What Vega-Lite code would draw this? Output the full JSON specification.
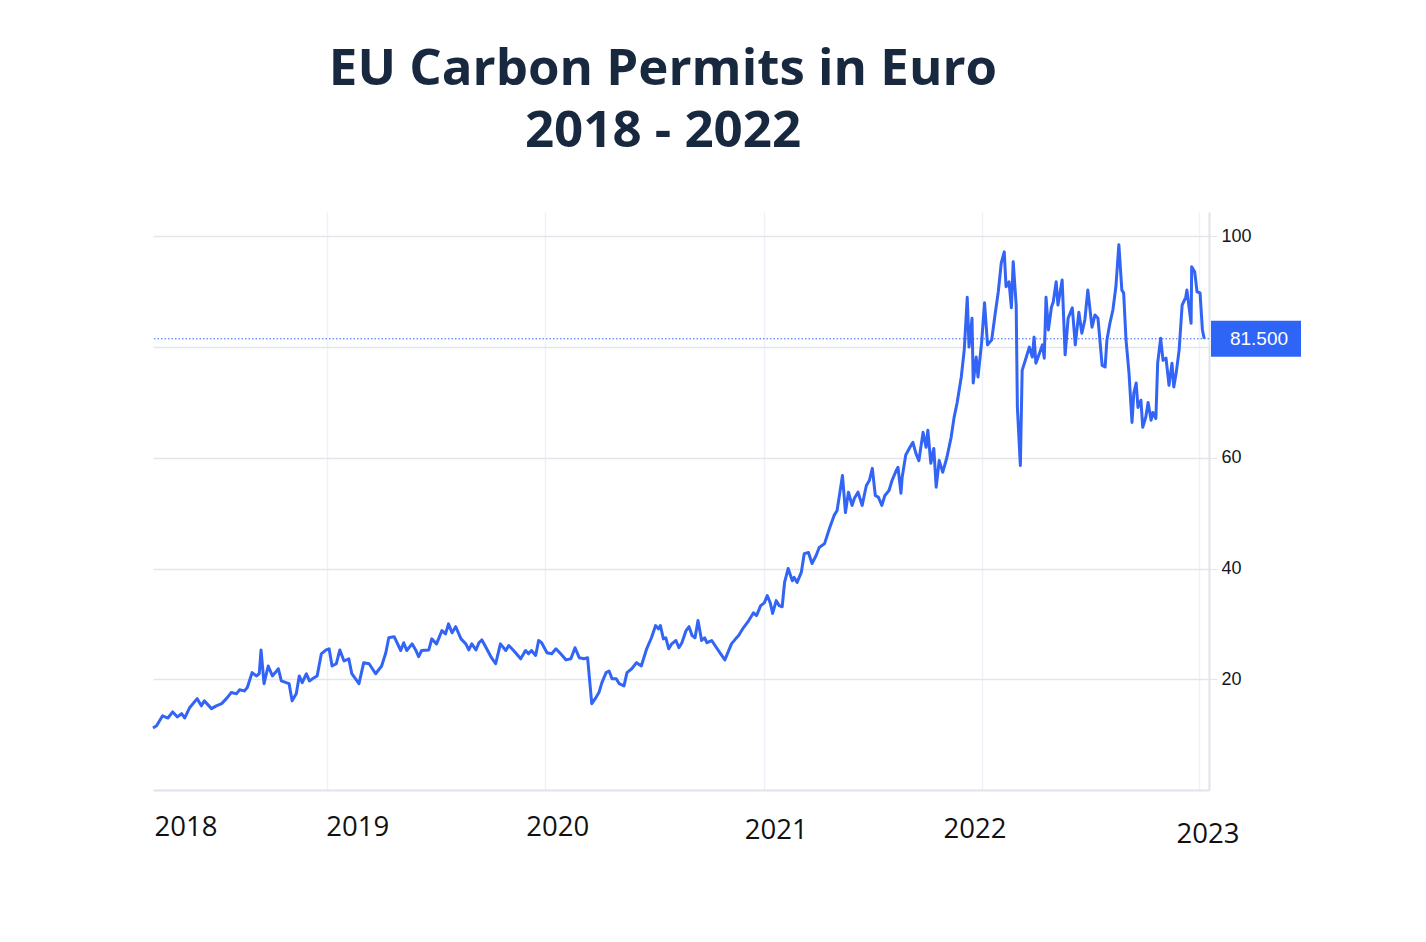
{
  "$schema": "https://vega.github.io/schema/vega-lite/v6.json",
  "width": 1056,
  "height": 578,
  "autosize": {"type": "none"},
  "padding": {"left": 153, "top": 212, "right": 217, "bottom": 152},
  "background": "white",
  "title": {
    "text": ["EU Carbon Permits in Euro", "2018 - 2022"],
    "font": "Open Sans",
    "fontSize": 51,
    "fontWeight": "bold",
    "color": "#17283f",
    "lineHeight": 62,
    "anchor": "middle",
    "dx": -18,
    "offset": 54
  },
  "data": {"values": [{"date": "2023-01-17", "price": 81.5, "label": "81.500"}]},
  "layer": [
    {
      "data": {
        "values": [
          {"date": "2018-03-15", "price": 11.2}, {"date": "2018-03-21", "price": 11.6}, {"date": "2018-03-31", "price": 13.4},
          {"date": "2018-04-09", "price": 13.0}, {"date": "2018-04-17", "price": 14.1}, {"date": "2018-04-25", "price": 13.2},
          {"date": "2018-05-02", "price": 13.8}, {"date": "2018-05-07", "price": 13.0}, {"date": "2018-05-15", "price": 14.8},
          {"date": "2018-05-28", "price": 16.5}, {"date": "2018-06-04", "price": 15.2}, {"date": "2018-06-09", "price": 16.1},
          {"date": "2018-06-21", "price": 14.7}, {"date": "2018-06-29", "price": 15.2}, {"date": "2018-07-08", "price": 15.6},
          {"date": "2018-07-16", "price": 16.5}, {"date": "2018-07-24", "price": 17.6}, {"date": "2018-08-02", "price": 17.4},
          {"date": "2018-08-07", "price": 18.1}, {"date": "2018-08-15", "price": 17.9}, {"date": "2018-08-20", "price": 18.5},
          {"date": "2018-08-28", "price": 21.2}, {"date": "2018-09-04", "price": 20.6}, {"date": "2018-09-09", "price": 21.0},
          {"date": "2018-09-12", "price": 25.3}, {"date": "2018-09-17", "price": 19.2}, {"date": "2018-09-24", "price": 22.4},
          {"date": "2018-10-01", "price": 20.6}, {"date": "2018-10-08", "price": 21.5}, {"date": "2018-10-11", "price": 21.9},
          {"date": "2018-10-16", "price": 19.7}, {"date": "2018-10-24", "price": 19.4}, {"date": "2018-10-29", "price": 19.2},
          {"date": "2018-11-03", "price": 16.1}, {"date": "2018-11-10", "price": 17.4}, {"date": "2018-11-15", "price": 20.6},
          {"date": "2018-11-20", "price": 19.4}, {"date": "2018-11-27", "price": 21.0}, {"date": "2018-12-02", "price": 19.7},
          {"date": "2018-12-10", "price": 20.3}, {"date": "2018-12-15", "price": 20.6}, {"date": "2018-12-22", "price": 24.6},
          {"date": "2018-12-30", "price": 25.3}, {"date": "2019-01-04", "price": 25.5}, {"date": "2019-01-09", "price": 22.4},
          {"date": "2019-01-16", "price": 22.8}, {"date": "2019-01-22", "price": 25.3}, {"date": "2019-01-29", "price": 23.3},
          {"date": "2019-02-06", "price": 23.7}, {"date": "2019-02-11", "price": 21.0}, {"date": "2019-02-23", "price": 19.2},
          {"date": "2019-03-03", "price": 23.0}, {"date": "2019-03-12", "price": 22.8}, {"date": "2019-03-23", "price": 21.0},
          {"date": "2019-04-02", "price": 22.4}, {"date": "2019-04-09", "price": 24.8}, {"date": "2019-04-14", "price": 27.5},
          {"date": "2019-04-23", "price": 27.7}, {"date": "2019-05-04", "price": 25.2}, {"date": "2019-05-09", "price": 26.6},
          {"date": "2019-05-14", "price": 25.2}, {"date": "2019-05-23", "price": 26.4}, {"date": "2019-05-29", "price": 25.3},
          {"date": "2019-06-03", "price": 24.1}, {"date": "2019-06-08", "price": 25.2}, {"date": "2019-06-20", "price": 25.3},
          {"date": "2019-06-25", "price": 27.3}, {"date": "2019-07-03", "price": 26.4}, {"date": "2019-07-12", "price": 28.8},
          {"date": "2019-07-18", "price": 28.2}, {"date": "2019-07-23", "price": 30.0}, {"date": "2019-07-29", "price": 28.4},
          {"date": "2019-08-04", "price": 29.5}, {"date": "2019-08-13", "price": 27.3}, {"date": "2019-08-21", "price": 26.4},
          {"date": "2019-08-26", "price": 25.3}, {"date": "2019-08-31", "price": 26.4}, {"date": "2019-09-07", "price": 25.3},
          {"date": "2019-09-12", "price": 26.6}, {"date": "2019-09-17", "price": 27.1}, {"date": "2019-09-25", "price": 25.5},
          {"date": "2019-10-03", "price": 23.9}, {"date": "2019-10-10", "price": 22.8}, {"date": "2019-10-18", "price": 26.4},
          {"date": "2019-10-27", "price": 25.2}, {"date": "2019-11-01", "price": 26.1}, {"date": "2019-11-09", "price": 25.2},
          {"date": "2019-11-21", "price": 23.7}, {"date": "2019-11-29", "price": 25.2}, {"date": "2019-12-04", "price": 24.6},
          {"date": "2019-12-09", "price": 25.2}, {"date": "2019-12-16", "price": 24.3}, {"date": "2019-12-21", "price": 27.0},
          {"date": "2019-12-26", "price": 26.6}, {"date": "2020-01-04", "price": 24.8}, {"date": "2020-01-12", "price": 24.6},
          {"date": "2020-01-19", "price": 25.5}, {"date": "2020-01-27", "price": 24.6}, {"date": "2020-02-05", "price": 23.5},
          {"date": "2020-02-13", "price": 23.7}, {"date": "2020-02-20", "price": 25.7}, {"date": "2020-02-27", "price": 23.9},
          {"date": "2020-03-06", "price": 23.7}, {"date": "2020-03-12", "price": 23.9}, {"date": "2020-03-19", "price": 15.6},
          {"date": "2020-03-26", "price": 16.7}, {"date": "2020-03-31", "price": 17.6}, {"date": "2020-04-05", "price": 19.4},
          {"date": "2020-04-12", "price": 21.2}, {"date": "2020-04-17", "price": 21.5}, {"date": "2020-04-22", "price": 20.1},
          {"date": "2020-04-29", "price": 20.1}, {"date": "2020-05-04", "price": 19.2}, {"date": "2020-05-12", "price": 18.8},
          {"date": "2020-05-17", "price": 21.2}, {"date": "2020-05-25", "price": 21.9}, {"date": "2020-06-02", "price": 23.0},
          {"date": "2020-06-10", "price": 22.4}, {"date": "2020-06-19", "price": 25.5}, {"date": "2020-06-27", "price": 27.5},
          {"date": "2020-07-04", "price": 29.7}, {"date": "2020-07-09", "price": 29.1}, {"date": "2020-07-12", "price": 29.7},
          {"date": "2020-07-17", "price": 27.3}, {"date": "2020-07-21", "price": 27.5}, {"date": "2020-07-26", "price": 25.5},
          {"date": "2020-07-31", "price": 26.4}, {"date": "2020-08-07", "price": 27.0}, {"date": "2020-08-12", "price": 25.7},
          {"date": "2020-08-17", "price": 26.6}, {"date": "2020-08-24", "price": 28.8}, {"date": "2020-08-29", "price": 29.5},
          {"date": "2020-09-03", "price": 27.9}, {"date": "2020-09-08", "price": 27.5}, {"date": "2020-09-13", "price": 30.6},
          {"date": "2020-09-19", "price": 27.0}, {"date": "2020-09-24", "price": 27.5}, {"date": "2020-09-28", "price": 26.6},
          {"date": "2020-10-06", "price": 27.0}, {"date": "2020-10-14", "price": 25.7}, {"date": "2020-10-21", "price": 24.6},
          {"date": "2020-10-28", "price": 23.5}, {"date": "2020-11-02", "price": 24.8}, {"date": "2020-11-08", "price": 26.4},
          {"date": "2020-11-15", "price": 27.3}, {"date": "2020-11-20", "price": 27.9}, {"date": "2020-11-28", "price": 29.3},
          {"date": "2020-12-07", "price": 30.6}, {"date": "2020-12-15", "price": 32.0}, {"date": "2020-12-20", "price": 31.5},
          {"date": "2020-12-27", "price": 33.3}, {"date": "2021-01-02", "price": 33.8}, {"date": "2021-01-07", "price": 35.1},
          {"date": "2021-01-12", "price": 33.8}, {"date": "2021-01-16", "price": 31.9}, {"date": "2021-01-22", "price": 34.2},
          {"date": "2021-01-27", "price": 33.3}, {"date": "2021-02-01", "price": 33.1}, {"date": "2021-02-05", "price": 37.5},
          {"date": "2021-02-11", "price": 40.0}, {"date": "2021-02-18", "price": 37.8}, {"date": "2021-02-21", "price": 38.4},
          {"date": "2021-02-26", "price": 37.5}, {"date": "2021-03-05", "price": 39.3}, {"date": "2021-03-10", "price": 42.7},
          {"date": "2021-03-17", "price": 42.9}, {"date": "2021-03-23", "price": 40.9}, {"date": "2021-03-30", "price": 42.4},
          {"date": "2021-04-04", "price": 43.8}, {"date": "2021-04-13", "price": 44.5}, {"date": "2021-04-21", "price": 47.2},
          {"date": "2021-04-29", "price": 49.6}, {"date": "2021-05-04", "price": 50.5}, {"date": "2021-05-13", "price": 56.8},
          {"date": "2021-05-18", "price": 50.1}, {"date": "2021-05-23", "price": 53.8}, {"date": "2021-05-29", "price": 51.4},
          {"date": "2021-06-02", "price": 52.7}, {"date": "2021-06-08", "price": 53.8}, {"date": "2021-06-15", "price": 51.4},
          {"date": "2021-06-22", "price": 55.0}, {"date": "2021-06-27", "price": 55.9}, {"date": "2021-07-02", "price": 58.1},
          {"date": "2021-07-07", "price": 53.2}, {"date": "2021-07-12", "price": 52.9}, {"date": "2021-07-18", "price": 51.4},
          {"date": "2021-07-23", "price": 53.2}, {"date": "2021-07-30", "price": 54.1}, {"date": "2021-08-04", "price": 55.9},
          {"date": "2021-08-11", "price": 57.7}, {"date": "2021-08-14", "price": 58.3}, {"date": "2021-08-19", "price": 53.6},
          {"date": "2021-08-21", "price": 56.5}, {"date": "2021-08-27", "price": 60.5}, {"date": "2021-09-03", "price": 61.9},
          {"date": "2021-09-08", "price": 62.8}, {"date": "2021-09-13", "price": 60.8}, {"date": "2021-09-18", "price": 59.5},
          {"date": "2021-09-25", "price": 64.6}, {"date": "2021-09-30", "price": 61.9}, {"date": "2021-10-03", "price": 65.0},
          {"date": "2021-10-08", "price": 59.0}, {"date": "2021-10-13", "price": 61.7}, {"date": "2021-10-17", "price": 54.7},
          {"date": "2021-10-22", "price": 59.5}, {"date": "2021-10-28", "price": 57.4}, {"date": "2021-11-04", "price": 60.1},
          {"date": "2021-11-11", "price": 63.7}, {"date": "2021-11-16", "price": 67.3}, {"date": "2021-11-21", "price": 69.9},
          {"date": "2021-11-28", "price": 74.6}, {"date": "2021-12-03", "price": 79.5}, {"date": "2021-12-08", "price": 89.0},
          {"date": "2021-12-11", "price": 80.0}, {"date": "2021-12-16", "price": 85.2}, {"date": "2021-12-18", "price": 73.5},
          {"date": "2021-12-23", "price": 78.2}, {"date": "2021-12-26", "price": 74.6}, {"date": "2022-01-01", "price": 80.7},
          {"date": "2022-01-06", "price": 88.0}, {"date": "2022-01-11", "price": 80.4}, {"date": "2022-01-18", "price": 81.3},
          {"date": "2022-01-23", "price": 85.4}, {"date": "2022-01-29", "price": 90.0}, {"date": "2022-02-03", "price": 95.2},
          {"date": "2022-02-08", "price": 97.2}, {"date": "2022-02-11", "price": 90.9}, {"date": "2022-02-16", "price": 91.8},
          {"date": "2022-02-20", "price": 87.1}, {"date": "2022-02-23", "price": 95.4}, {"date": "2022-02-28", "price": 87.6},
          {"date": "2022-03-02", "price": 69.1}, {"date": "2022-03-07", "price": 58.6}, {"date": "2022-03-10", "price": 75.8},
          {"date": "2022-03-17", "price": 78.2}, {"date": "2022-03-22", "price": 80.0}, {"date": "2022-03-27", "price": 78.2},
          {"date": "2022-03-30", "price": 81.8}, {"date": "2022-04-02", "price": 77.1}, {"date": "2022-04-08", "price": 78.9},
          {"date": "2022-04-13", "price": 80.4}, {"date": "2022-04-16", "price": 78.0}, {"date": "2022-04-19", "price": 89.0},
          {"date": "2022-04-23", "price": 83.1}, {"date": "2022-04-28", "price": 87.2}, {"date": "2022-05-01", "price": 88.1},
          {"date": "2022-05-06", "price": 91.8}, {"date": "2022-05-09", "price": 87.6}, {"date": "2022-05-16", "price": 92.1},
          {"date": "2022-05-21", "price": 78.6}, {"date": "2022-05-26", "price": 85.2}, {"date": "2022-06-02", "price": 87.1},
          {"date": "2022-06-07", "price": 80.4}, {"date": "2022-06-13", "price": 86.3}, {"date": "2022-06-18", "price": 82.5},
          {"date": "2022-06-23", "price": 84.9}, {"date": "2022-06-28", "price": 90.3}, {"date": "2022-07-05", "price": 83.6},
          {"date": "2022-07-10", "price": 85.8}, {"date": "2022-07-15", "price": 85.2}, {"date": "2022-07-22", "price": 76.7},
          {"date": "2022-07-27", "price": 76.4}, {"date": "2022-07-30", "price": 81.3}, {"date": "2022-08-04", "price": 84.3},
          {"date": "2022-08-09", "price": 86.7}, {"date": "2022-08-14", "price": 90.9}, {"date": "2022-08-19", "price": 98.5},
          {"date": "2022-08-24", "price": 90.3}, {"date": "2022-08-27", "price": 89.8}, {"date": "2022-08-31", "price": 81.3},
          {"date": "2022-09-05", "price": 75.3}, {"date": "2022-09-10", "price": 66.4}, {"date": "2022-09-13", "price": 71.7},
          {"date": "2022-09-17", "price": 73.5}, {"date": "2022-09-20", "price": 69.1}, {"date": "2022-09-25", "price": 70.4},
          {"date": "2022-09-28", "price": 65.5}, {"date": "2022-10-03", "price": 67.3}, {"date": "2022-10-07", "price": 70.0},
          {"date": "2022-10-12", "price": 66.8}, {"date": "2022-10-15", "price": 68.2}, {"date": "2022-10-20", "price": 67.1},
          {"date": "2022-10-23", "price": 77.1}, {"date": "2022-10-28", "price": 81.6}, {"date": "2022-11-01", "price": 77.6},
          {"date": "2022-11-06", "price": 78.0}, {"date": "2022-11-11", "price": 73.1}, {"date": "2022-11-16", "price": 77.1},
          {"date": "2022-11-19", "price": 72.8}, {"date": "2022-11-23", "price": 75.3}, {"date": "2022-11-28", "price": 79.5},
          {"date": "2022-12-03", "price": 87.6}, {"date": "2022-12-09", "price": 89.0}, {"date": "2022-12-11", "price": 90.3},
          {"date": "2022-12-18", "price": 84.3}, {"date": "2022-12-19", "price": 94.5}, {"date": "2022-12-24", "price": 93.6},
          {"date": "2022-12-28", "price": 90.0}, {"date": "2023-01-02", "price": 89.8}, {"date": "2023-01-06", "price": 83.1},
          {"date": "2023-01-09", "price": 81.5}
        ]
      },
      "mark": {"type": "line", "color": "#3264f5", "strokeWidth": 3, "strokeJoin": "round"},
      "encoding": {
        "x": {
          "field": "date",
          "type": "temporal",
          "title": null,
          "scale": {
            "type": "utc",
            "domain": [
              {"year": 2018, "month": 3, "date": 15, "utc": true},
              {"year": 2023, "month": 1, "date": 17, "utc": true}
            ]
          },
          "axis": {
            "values": [
              {"year": 2018, "month": 3, "date": 15, "utc": true},
              {"year": 2019, "month": 1, "date": 1, "utc": true},
              {"year": 2020, "month": 1, "date": 1, "utc": true},
              {"year": 2021, "month": 1, "date": 1, "utc": true},
              {"year": 2022, "month": 1, "date": 1, "utc": true},
              {"year": 2023, "month": 1, "date": 1, "utc": true}
            ],
            "labelExpr": "utcFormat(datum.value, '%Y')",
            "grid": true,
            "gridColor": "#eef1f7",
            "gridWidth": 1.5,
            "gridOpacity": {"condition": {"test": "utcyear(datum.value) == 2018", "value": 0}, "value": 1},
            "ticks": false,
            "domainColor": "#e0e3eb",
            "domainWidth": 2,
            "labelFont": "Open Sans",
            "labelFontSize": 27.5,
            "labelColor": "#111111",
            "labelBaseline": "top",
            "labelFlush": false,
            "labelOverlap": false,
            "labelBound": false,
            "labelAlign": {"condition": {"test": "utcyear(datum.value) == 2018", "value": "left"}, "value": "center"},
            "labelOffset": {
              "condition": [
                {"test": "utcyear(datum.value) == 2018", "value": 1},
                {"test": "utcyear(datum.value) == 2019", "value": 30},
                {"test": "utcyear(datum.value) == 2022", "value": -7},
                {"test": "utcyear(datum.value) == 2023", "value": 8}
              ],
              "value": 12
            },
            "labelPadding": {
              "condition": [
                {"test": "utcyear(datum.value) == 2021", "value": 26},
                {"test": "utcyear(datum.value) == 2022", "value": 25},
                {"test": "utcyear(datum.value) == 2023", "value": 30}
              ],
              "value": 23
            }
          }
        },
        "y": {
          "field": "price",
          "type": "quantitative",
          "title": null,
          "scale": {"domain": [0, 104.4], "zero": false, "nice": false},
          "axis": {
            "orient": "right",
            "values": [20, 40, 60, 80, 100],
            "labelExpr": "datum.value == 80 ? '' : datum.label",
            "grid": true,
            "gridColor": "#e3e5ea",
            "gridWidth": 1.5,
            "domainColor": "#e0e3eb",
            "domainWidth": 2,
            "ticks": true,
            "tickColor": "#e3e5ea",
            "tickSize": 8,
            "labelPadding": 4,
            "labelFont": "Liberation Sans",
            "labelFontSize": 18,
            "labelColor": "#131722"
          }
        }
      }
    },
    {
      "mark": {"type": "rule", "color": "#3264f5", "strokeDash": [1.5, 2], "strokeWidth": 1},
      "encoding": {"y": {"field": "price", "type": "quantitative", "title": null}}
    },
    {
      "mark": {"type": "rect", "color": "#2f65f7", "width": 90, "height": 36, "xOffset": 47},
      "encoding": {
        "x": {"field": "date", "type": "temporal", "title": null},
        "y": {"field": "price", "type": "quantitative", "title": null}
      }
    },
    {
      "mark": {"type": "text", "color": "white", "font": "Liberation Sans", "fontSize": 19, "dx": 50, "align": "center", "baseline": "middle"},
      "encoding": {
        "x": {"field": "date", "type": "temporal", "title": null},
        "y": {"field": "price", "type": "quantitative", "title": null},
        "text": {"field": "label"}
      }
    }
  ],
  "config": {
    "view": {"stroke": null}
  }
}
